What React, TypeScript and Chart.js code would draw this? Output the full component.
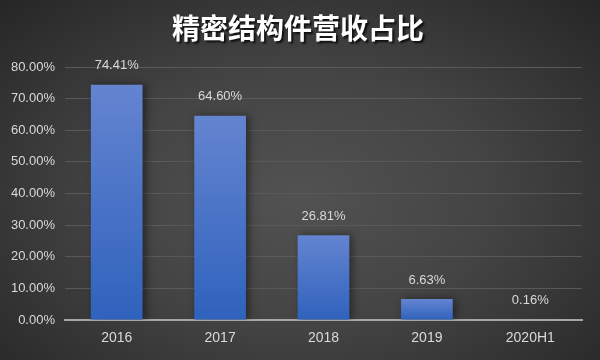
import React, { useEffect, useRef } from "react";
import { Chart, registerables } from "chart.js";

Chart.register(...registerables);

const title = "精密结构件营收占比";
const categories = ["2016", "2017", "2018", "2019", "2020H1"];
const shares = [74.41, 64.6, 26.81, 6.63, 0.16];
const yMax = 80;
const yStep = 10;

const titlePlugin = {
  id: "shadowTitle",
  afterDraw(chart: any) {
    const ctx = chart.ctx;
    ctx.save();
    ctx.font = 'bold 28px "Noto Sans CJK SC", sans-serif';
    ctx.textAlign = "center";
    ctx.textBaseline = "middle";
    ctx.shadowColor = "rgba(0,0,0,0.75)";
    ctx.shadowOffsetX = 2;
    ctx.shadowOffsetY = 2;
    ctx.shadowBlur = 2;
    ctx.fillStyle = "#ffffff";
    ctx.fillText(title, 298, 28);
    ctx.restore();
  },
};

const shadowPlugin = {
  id: "barShadow",
  beforeDatasetDraw(chart: any) {
    const ctx = chart.ctx;
    ctx.save();
    ctx.shadowColor = "rgba(0,0,0,0.45)";
    ctx.shadowBlur = 8;
    ctx.shadowOffsetX = 3;
    ctx.shadowOffsetY = 0;
  },
  afterDatasetDraw(chart: any) {
    chart.ctx.restore();
  },
};

const labelPlugin = {
  id: "valueLabels",
  afterDatasetsDraw(chart: any) {
    const ctx = chart.ctx;
    const meta = chart.getDatasetMeta(0);
    ctx.save();
    ctx.font = '13px "Liberation Sans", Arial, sans-serif';
    ctx.fillStyle = "#d9d9d9";
    ctx.textAlign = "center";
    ctx.textBaseline = "middle";
    meta.data.forEach((bar: any, i: number) => {
      const v = chart.data.datasets[0].data[i] as number;
      ctx.fillText(v.toFixed(2) + "%", bar.x, bar.y - 19);
    });
    ctx.restore();
  },
};

export default function App() {
  const ref = useRef<HTMLCanvasElement | null>(null);
  useEffect(() => {
    document.body.style.margin = "0";
    const canvas = ref.current!;
    const chart = new Chart(canvas, {
      type: "bar",
      data: {
        labels: categories,
        datasets: [
          {
            data: shares,
            barPercentage: 0.5,
            categoryPercentage: 1,
            borderWidth: 0,
            backgroundColor: (c: any) => {
              const ch = c.chart;
              const ys = ch.scales && ch.scales.y;
              if (!ys || !ch.chartArea || c.raw === undefined) return "#4a72c8";
              const top = ys.getPixelForValue(c.raw);
              const bottom = ys.getPixelForValue(0);
              if (!isFinite(top) || !isFinite(bottom) || bottom - top < 1) return "#8ea8e0";
              const g = ch.ctx.createLinearGradient(0, top, 0, bottom);
              g.addColorStop(0, "#6484d0");
              g.addColorStop(1, "#2f62bd");
              return g;
            },
          },
        ],
      },
      options: {
        responsive: false,
        animation: false,
        devicePixelRatio: 1,
        layout: { padding: { top: 67, left: 0, right: 18, bottom: 0 } },
        plugins: {
          legend: { display: false },
          title: { display: false },
          tooltip: { enabled: false },
        },
        scales: {
          x: {
            grid: { display: false, drawTicks: false },
            border: { display: true, color: "#a6a6a6", width: 2 },
            ticks: {
              color: "#d9d9d9",
              font: { family: '"Liberation Sans", Arial, sans-serif', size: 14 },
              padding: 10,
            },
            afterFit: (s: any) => {
              s.height = 40;
            },
          },
          y: {
            min: 0,
            max: yMax,
            grid: { color: "#595959", lineWidth: 1, drawTicks: false },
            border: { display: false },
            ticks: {
              stepSize: yStep,
              color: "#d9d9d9",
              font: { family: '"Liberation Sans", Arial, sans-serif', size: 13 },
              padding: 10,
              callback: (v: any) => Number(v).toFixed(2) + "%",
            },
            afterFit: (s: any) => {
              s.width = 65;
            },
          },
        },
      },
      plugins: [shadowPlugin, labelPlugin, titlePlugin],
    });
    return () => chart.destroy();
  }, []);

  return (
    <div
      style={{
        position: "absolute",
        left: 0,
        top: 0,
        width: 600,
        height: 360,
        background:
          "radial-gradient(ellipse farthest-corner at 50% 55%, #525252 0%, #444444 45%, #262626 100%)",
      }}
    >
      <canvas ref={ref} width={600} height={360} style={{ display: "block" }} />
    </div>
  );
}
